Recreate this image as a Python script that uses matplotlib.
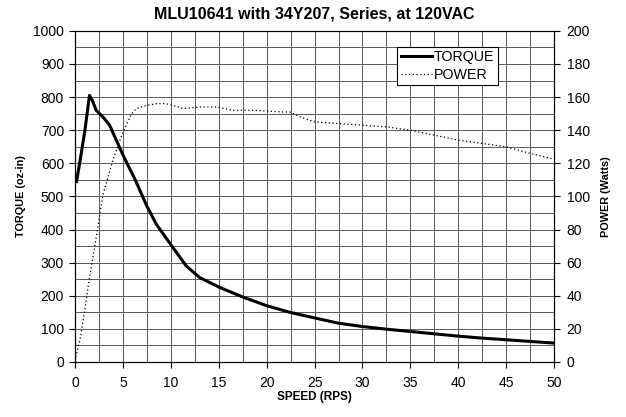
import matplotlib.pyplot as plt
from matplotlib.ticker import MultipleLocator

plt.rcParams['font.family'] = ['Liberation Sans', 'DejaVu Sans']

# torque curve (oz-in) vs speed (RPS)
torque_speed = [0.15, 0.5, 1.0, 1.5, 1.8, 2.2, 2.9, 3.6, 4.3, 5.0, 5.5, 6.2, 7.5,
                8.5, 10.1, 11.6, 13.0, 15.1, 17.6, 20.0, 22.4, 25.0, 27.5, 30.0,
                32.5, 35.0, 37.5, 40.0, 42.5, 45.0, 47.5, 50.0]
torque = [545, 605, 695, 805, 790, 760, 740, 715, 670, 625, 595, 555, 470,
          415, 350, 290, 255, 225, 195, 170, 150, 133, 117, 107,
          99, 92, 85, 78, 72, 67, 62, 57]

# power curve (Watts) vs speed (RPS)
power_speed = [0.07, 0.5, 1.0, 1.5, 2.2, 2.6, 2.9, 4.0, 5.0, 5.9, 6.4, 7.5, 8.5,
               9.5, 10.2, 11.3, 13.0, 14.8, 16.5, 18.6, 21.7, 22.4, 23.5, 25.0,
               27.5, 30.0, 32.5, 35.0, 37.5, 40.0, 42.5, 45.0, 47.5, 50.0]
power = [3, 13, 31, 51, 75, 90, 101, 123, 139, 150, 153, 155, 156,
         156, 155, 153, 154, 154, 152, 152, 151, 151, 148, 145,
         144, 143, 142, 140, 137, 134, 132, 130, 126, 122.5]

fig = plt.figure(figsize=(6.26, 4.17), dpi=100)
ax = fig.add_axes([0.12, 0.132, 0.765, 0.794])
ax2 = ax.twinx()

ax.plot(torque_speed, torque, color='black', lw=2.2, label='TORQUE')
ax2.plot(power_speed, power, color='black', lw=0.9, ls=(0, (1, 2)), label='POWER')

ax.set_xlim(0, 50)
ax.set_ylim(0, 1000)
ax2.set_ylim(0, 200)
ax.xaxis.set_major_locator(MultipleLocator(5))
ax.xaxis.set_minor_locator(MultipleLocator(2.5))
ax.yaxis.set_major_locator(MultipleLocator(100))
ax.yaxis.set_minor_locator(MultipleLocator(50))
ax2.yaxis.set_major_locator(MultipleLocator(20))

ax.grid(True, which='both', color='0.35', lw=0.7)
ax.set_axisbelow(True)
ax.tick_params(which='minor', length=0)
ax.tick_params(axis='x', which='major', length=4, labelsize=10, pad=6)
ax.tick_params(axis='y', which='major', length=4, labelsize=10, pad=4)
ax2.tick_params(length=4, labelsize=10, pad=5)

for a in (ax, ax2):
    for s in a.spines.values():
        s.set_linewidth(0.8)

ax.set_title('MLU10641 with 34Y207, Series, at 120VAC', fontsize=11.5,
             fontweight='bold', pad=9)
ax.set_xlabel('SPEED (RPS)', fontsize=8.5, fontweight='bold', labelpad=1)
ax.set_ylabel('TORQUE (oz-in)', fontsize=7.8, fontweight='bold', labelpad=5)
ax2.set_ylabel('POWER (Watts)', fontsize=7.8, fontweight='bold', labelpad=8)

h1, l1 = ax.get_legend_handles_labels()
h2, l2 = ax2.get_legend_handles_labels()
leg = ax2.legend(h1 + h2, l1 + l2, loc='upper right', bbox_to_anchor=(0.883, 0.952),
                 fontsize=10.3, frameon=True, fancybox=False, framealpha=1,
                 edgecolor='black', borderpad=0.25, handlelength=2.2,
                 handletextpad=0.1, labelspacing=0.25, borderaxespad=0)
leg.get_frame().set_linewidth(0.8)

fig.savefig('out.png', dpi=100)
